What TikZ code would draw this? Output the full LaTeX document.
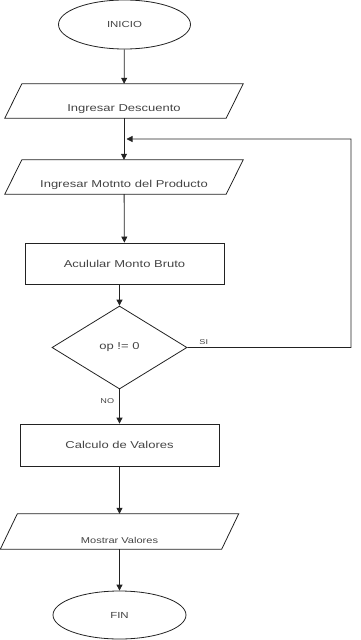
\documentclass[tikz,border=0pt]{standalone}
\usepackage{fontspec}
\setmainfont{Liberation Sans}[FakeStretch=1.3]
\usetikzlibrary{shapes.geometric,arrows.meta,calc}
\definecolor{ink}{HTML}{222222}
\definecolor{txtc}{HTML}{444444}
\begin{document}
\begin{tikzpicture}[x=1pt,y=-1pt,
  every node/.style={text=txtc, font=\fontsize{10}{12}\selectfont},
  line/.style={draw=ink, line width=0.8pt},
  flow/.style={line, -{Triangle[length=6pt,width=6pt]}},
  term/.style={ellipse, draw=ink, line width=0.8pt, inner sep=0pt, font=\fontsize{8.8}{10}\selectfont},
  iobody/.style={rectangle, inner sep=0pt},
  proc/.style={rectangle, draw=ink, line width=0.8pt, inner sep=0pt},
  dec/.style={diamond, draw=ink, line width=0.8pt, inner sep=0pt, aspect=1.63},
  iotext/.style={text=txtc, inner sep=0pt},
  tag/.style={font=\fontsize{7}{8}\selectfont, inner sep=0pt}
]
\useasboundingbox (0,0) rectangle (360,640);

% terminals, steps and decision
\node[term, minimum width=132pt, minimum height=49pt] (ini) at (124.5,24.5) {INICIO};
\node[iobody, minimum width=221pt, minimum height=34pt,
  label={[iotext, yshift=-8pt]center:Ingresar Descuento}] (desc) at (124,101) {};
\node[iobody, minimum width=221pt, minimum height=34pt,
  label={[iotext, yshift=-8pt]center:Ingresar Motnto del Producto}] (monto) at (124,177) {};
\node[proc, minimum width=199pt, minimum height=41pt] (acum) at (124.5,263.5) {Aculular Monto Bruto};
\node[dec, minimum width=135pt, minimum height=83pt] (op) at (119.5,347.5) {op != 0};
\node[proc, minimum width=199pt, minimum height=42pt] (calc) at (119.5,445) {Calculo de Valores};
\node[iobody, minimum width=221pt, minimum height=35pt,
  label={[iotext, yshift=-8.5pt, font=\fontsize{8.5}{10}\selectfont]center:Mostrar Valores}] (most) at (119.5,531.5) {};
\node[term, minimum width=133pt, minimum height=48pt] (fin) at (119.5,615) {FIN};

% slanted outlines of the input/output steps
\foreach \n/\s in {desc/8.5, monto/8.5, most/8.5} {
  \draw[line] ([xshift=\s pt]\n.north west) -- ([xshift=\s pt]\n.north east)
    -- ([xshift=-\s pt]\n.south east) -- ([xshift=-\s pt]\n.south west) -- cycle;
}

% loop return point on the main line
\coordinate (back) at ($(desc.south)!0.5!(monto.north)$);

% connectors
\draw[flow] (ini) -- (desc);
\draw[flow] (desc) -- (monto);
\draw[flow] (monto) -- (acum);
\draw[flow] (acum.south -| op.north) -- (op.north);
\draw[flow] (op.south) -- node[tag, pos=0.35, left=5pt] {NO} (calc.north -| op.south);
\draw[flow] (calc.south -| most.north) -- (most.north);
\draw[flow] (most.south) -- (fin.north);
\draw[flow] (op.east) -- node[tag, pos=0.1, above=3pt] {SI} (351,347.5) -- (351,139) -- ([xshift=2.5pt]back);

\end{tikzpicture}
\end{document}
